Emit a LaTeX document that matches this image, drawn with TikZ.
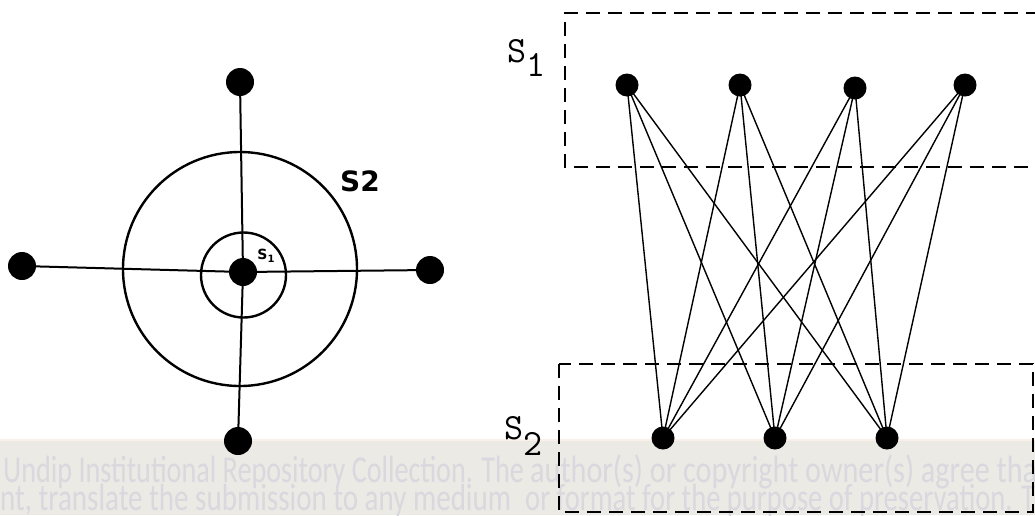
\documentclass[tikz,border=0pt]{standalone}
\usepackage{fontspec}
\usepackage{graphicx}
\newfontfamily\wmfont{Carlito}
\newfontfamily\handfont{DejaVu Sans}
\definecolor{band}{RGB}{236,234,229}
\definecolor{bandedge}{RGB}{250,240,232}
\definecolor{wmtext}{RGB}{216,216,222}
\tikzset{
  bigdot/.style={circle, fill=black, inner sep=0pt, minimum size=28pt},
  smalldot/.style={circle, fill=black, inner sep=0pt, minimum size=23pt},
  spoke/.style={line width=2pt},
  ring/.style={line width=2.4pt},
  edge/.style={line width=1.4pt},
  box/.style={line width=2.6pt, dash pattern=on 14pt off 8pt},
  wm/.style={anchor=base west, inner sep=0pt, text=wmtext, font=\wmfont\fontsize{38}{38}\selectfont},
  setlabel/.style={inner sep=0pt, font=\ttfamily\fontsize{37}{37}\selectfont}
}
\begin{document}
\begin{tikzpicture}[x=1pt, y=-1pt]
\useasboundingbox (0,0) rectangle (1035,515);
\clip (0,0) rectangle (1035,515);
% watermark band
\fill[band] (0,440) rectangle (1035,515);
\draw[bandedge, line width=1.5pt] (0,439.8) -- (1035,439.8);
\node[wm] (wmA) at (3,482) {\resizebox{521pt}{\height}{Undip Institutional Repository Collection. The}};
\node[wm] (wmB) at (530,482) {\resizebox{507pt}{\height}{author(s) or copyright owner(s) agree tha}};
\node[wm] (wmC) at (0,510) {\resizebox{511pt}{\height}{nt, translate the submission to any medium}};
\node[wm] (wmD) at (525,510) {\resizebox{510pt}{\height}{or format for the purpose of preservation. T}};

% ---------- left figure ----------
\coordinate (bigc) at (240,269);
\coordinate (smallc) at (243.5,275);
\draw[ring] (bigc) circle[radius=117];
\draw[ring] (smallc) circle[radius=42.5];
\node[bigdot] (c) at (243,272) {};
\node[bigdot] (t) at (240,82) {};
\node[bigdot] (l) at (22,266) {};
\node[bigdot] (r) at (430,270) {};
\node[bigdot] (b) at (238,441) {};
\draw[spoke] (t) -- (c);
\draw[spoke] (c) -- (b);
\draw[spoke] (l) -- (c);
\draw[spoke] (c) -- (r);
\node[inner sep=0pt, font=\handfont\bfseries\fontsize{28}{28}\selectfont] (lS2) at (360,181) {S2};
\node[inner sep=0pt, font=\handfont\bfseries\fontsize{14}{14}\selectfont] (lS1) at (266,256) {S\raisebox{-3pt}{\fontsize{10}{10}\selectfont 1}};

% ---------- right figure ----------
\draw[box] (1040,13) -- (565,13) -- (565,167) -- (1040,167);
\draw[box] (559,364) rectangle (1033,512);
\node[setlabel, anchor=base west] (rS1) at (507,62) {S\raisebox{-14pt}{1}};
\node[setlabel, anchor=base west] (rS2) at (504,439) {S\raisebox{-16pt}{2}};

\node[smalldot] (a1) at (627,85) {};
\node[smalldot] (a2) at (740,85) {};
\node[smalldot] (a3) at (855,88) {};
\node[smalldot] (a4) at (965,85) {};
\node[smalldot] (b1) at (663,438) {};
\node[smalldot] (b2) at (775,438) {};
\node[smalldot] (b3) at (887,438) {};
\foreach \i in {a1,a2,a3,a4}{
  \foreach \j in {b1,b2,b3}{
    \draw[edge] (\i.center) -- (\j.center);
  }
}
\end{tikzpicture}
\end{document}
